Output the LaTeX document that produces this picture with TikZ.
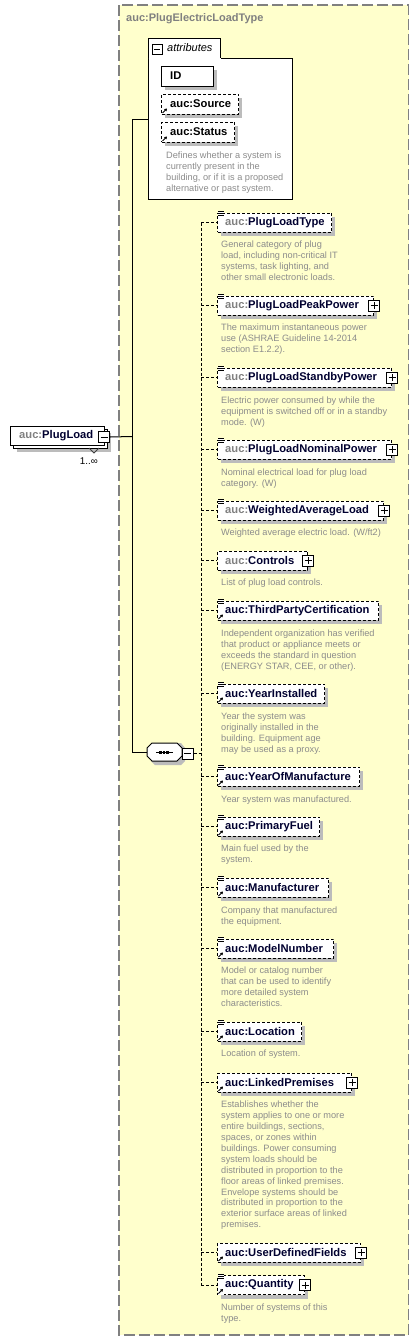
\documentclass[tikz,border=0pt]{standalone}
\usepackage{fontspec}
\setmainfont{Liberation Sans}
\usetikzlibrary{calc,arrows.meta}
\definecolor{bgyellow}{RGB}{255,255,204}
\definecolor{txtgray}{RGB}{128,128,128}
\definecolor{descgray}{RGB}{140,140,140}
\definecolor{namecol}{RGB}{0,0,48}
\definecolor{shadowgray}{RGB}{188,188,188}
\tikzset{
  elbase/.style={shape=rectangle,fill=white,line width=1pt,minimum height=19pt,inner sep=0pt,anchor=west},
  elbox/.style={elbase,draw,dash pattern=on 3pt off 2pt},
  solidbox/.style={elbase,draw},
  nm/.style={font=\fontsize{11.2}{13}\selectfont\bfseries,text=namecol,anchor=west,inner sep=0pt},
  desc/.style={font=\fontsize{9.2}{10.9}\selectfont,text=descgray,align=left,anchor=north west,inner sep=0pt},
  iconbox/.style={draw,fill=white,line width=1pt,minimum size=11pt,inner sep=0pt},
  plusbox/.style={iconbox,path picture={\draw[line width=1pt]
    ([xshift=2pt]path picture bounding box.west) -- ([xshift=-2pt]path picture bounding box.east)
    ([yshift=2pt]path picture bounding box.south) -- ([yshift=-2pt]path picture bounding box.north);}},
  minusbox/.style={iconbox,path picture={\draw[line width=1pt]
    ([xshift=2pt]path picture bounding box.west) -- ([xshift=-2pt]path picture bounding box.east);}},
  conn/.style={line width=1pt,draw=black},
  dconn/.style={line width=1pt,draw=black,dash pattern=on 3pt off 2pt},
  shadowfill/.style={fill=shadowgray,draw=none},
}
\newcommand\el[4]{%
  \fill[shadowfill] (221,#2-5.5) rectangle (#3+4,#2+13.5);
  \node[elbox,minimum width={#3-217}] (#1) at (217,#2) {};
  \node[nm] (#1n) at (225,#2) {#4};
  \draw[dconn] (#1.west -| spine) -- (#1.west);}
\newcommand\dsc[3]{\node[desc] (#1) at (221,#2) {\strut #3};}
\newcommand\listic[1]{%
  \fill[white] ($(#1.north west)+(0.5,-1.5)$) rectangle ($(#1.north west)+(7,4)$);
  \foreach \d in {-1,1,3} \draw[line width=0.9pt] ($(#1.north west)+(1,\d)$) -- ++(5.5,0);}
\newcommand\refic[1]{%
  \fill[white] ($(#1.south west)+(0.5,-7)$) rectangle ($(#1.south west)+(7,-0.5)$);
  \draw[line width=1pt,-{Triangle[length=2.5pt,width=3pt]}] ($(#1.south west)+(1.5,-1.5)$) -- ($(#1.south west)+(6,-6)$);}
\newcommand\plusic[1]{\node[plusbox] (#1p) at (#1.east) {};}
\newcommand\loc[1]{{\color{txtgray}auc:}#1}
\begin{document}
\begin{tikzpicture}[x=1pt,y=-1pt]
\useasboundingbox (0,0) rectangle (419,1341);
% type box
\draw[draw=txtgray,fill=bgyellow,line width=1.2pt,dash pattern=on 11pt off 4pt] (119,5) rectangle (408.5,1335);
\node[font=\fontsize{11}{13}\selectfont\bfseries,text=txtgray,anchor=west,inner sep=0pt] (title) at (126,19) {auc:PlugElectricLoadType};
% coordinates
\coordinate (spine) at (201,0);
\coordinate (jtop) at (132,119);
\coordinate (jpl) at (132,436.5);
\coordinate (jseq) at (132,752);
% attributes
\node[draw,fill=white,line width=1pt,minimum width=72pt,minimum height=20pt,anchor=north west,inner sep=0pt] (attrtab) at (148,38) {};
\node[draw,fill=white,line width=1pt,minimum width=144pt,minimum height=141pt,anchor=north west,inner sep=0pt] (attrbox) at (148,58) {};
\draw[white,line width=1.2pt] ($(attrtab.south west)+(0.5,0)$) -- ($(attrtab.south east)+(-0.5,0)$);
\node[minusbox,minimum size=10pt] (attrm) at (157,49) {};
\node[font=\fontsize{11}{13}\selectfont\itshape,anchor=west,inner sep=0pt] (attrl) at (167,48) {attributes};
\fill[shadowfill] (165,70) rectangle (217,90);
\node[solidbox,minimum width=52pt,minimum height=20pt] (aid) at (161,76) {};
\node[nm,text=black] (aidn) at (170,76) {ID};
\fill[shadowfill] (165,98) rectangle (242,118);
\node[elbox,minimum width=77pt,minimum height=20pt] (asrc) at (161,104) {};
\node[nm,text=black] (asrcn) at (170,104) {auc:Source};
\refic{asrc}
\fill[shadowfill] (165,126) rectangle (238,146);
\node[elbox,minimum width=73pt,minimum height=20pt] (asta) at (161,132) {};
\node[nm,text=black] (astan) at (170,132) {auc:Status};
\refic{asta}
\node[desc] (adesc) at (166,151) {\strut Defines whether a system is\\currently present in the\\building, or if it is a proposed\\alternative or past system.};
% PlugLoad element
\fill[shadowfill] (17,433) rectangle (111,452);
\node[solidbox,minimum width=94pt,minimum height=19pt,anchor=north west] (plb) at (13,429) {};
\node[draw,fill=white,line width=1pt,minimum width=94pt,minimum height=19pt,anchor=north west,inner sep=0pt] (pl) at (10,426) {};
\node[nm] (pln) at (19,435.5) {\loc{PlugLoad}};
\node[minusbox] (plm) at (104,437) {};
\draw[line width=0.9pt,black!75] (89,448) -- (94,453) -- (99,448);
\node[font=\fontsize{9.8}{11}\selectfont,anchor=east,inner sep=0pt] (plmult) at (98,461) {1..∞};
% trunk connectors
\draw[conn] (plm.east) -- (jpl);
\draw[conn] (attrbox.west |- jtop) -- (jtop) -- (jseq);
% sequence compositor
\fill[shadowfill] (151,747) -- (155,743) -- (181,743) -- (185,748) -- (185,761) -- (181,765) -- (155,765) -- (151,761) -- cycle;
\draw[line width=1pt,fill=white] (147,748) -- (152,743) -- (177,743) -- (182,748) -- (182,756) -- (177,761) -- (152,761) -- (147,756) -- cycle;
\node[minimum width=35pt,minimum height=18pt,inner sep=0pt] (seq) at (164.5,752) {};
\draw[conn] (jseq) -- (seq.west);
\draw[line width=1pt] (156,752) -- (173,752);
\foreach \q in {160.5,164,167.5} \fill (\q-1.3,750.5) rectangle (\q+1.3,753.5);
\node[minusbox] (seqm) at (187.5,753.5) {};
\coordinate (sjoin) at (201,753.5);
\draw[dconn] (seqm.east) -- (sjoin);
% spine
\draw[dconn] (201,222.5) -- (201,1285);
% elements
\el{e1}{222.5}{331}{\loc{PlugLoadType}} \listic{e1}
\dsc{d1}{240}{General category of plug\\load, including non-critical IT\\systems, task lighting, and\\other small electronic loads.}
\el{e2}{305.5}{373}{\loc{PlugLoadPeakPower}} \listic{e2} \plusic{e2}
\dsc{d2}{323}{The maximum instantaneous power\\use (ASHRAE Guideline 14-2014\\section E1.2.2).}
\el{e3}{377.5}{391}{\loc{PlugLoadStandbyPower}} \listic{e3} \plusic{e3}
\dsc{d3}{396}{Electric power consumed by while the\\equipment is switched off or in a standby\\mode. (W)}
\el{e4}{449.5}{391}{\loc{PlugLoadNominalPower}} \listic{e4} \plusic{e4}
\dsc{d4}{468}{Nominal electrical load for plug load\\category. (W)}
\el{e5}{510.5}{383}{\loc{WeightedAverageLoad}} \listic{e5} \plusic{e5}
\dsc{d5}{528}{Weighted average electric load. (W/ft2)}
\el{e6}{560.5}{307}{\loc{Controls}} \plusic{e6}
\dsc{d6}{578}{List of plug load controls.}
\el{e7}{610.5}{378}{auc:ThirdPartyCertification} \listic{e7} \refic{e7}
\dsc{d7}{629}{Independent organization has verified\\that product or appliance meets or\\exceeds the standard in question\\(ENERGY STAR, CEE, or other).}
\el{e8}{693.5}{324}{auc:YearInstalled} \listic{e8} \refic{e8}
\dsc{d8}{712}{Year the system was\\originally installed in the\\building. Equipment age\\may be used as a proxy.}
\el{e9}{776.5}{359}{auc:YearOfManufacture} \listic{e9} \refic{e9}
\dsc{d9}{795}{Year system was manufactured.}
\el{e10}{826.5}{319}{auc:PrimaryFuel} \listic{e10} \refic{e10}
\dsc{d10}{844}{Main fuel used by the\\system.}
\el{e11}{887.5}{328}{auc:Manufacturer} \listic{e11} \refic{e11}
\dsc{d11}{906}{Company that manufactured\\the equipment.}
\el{e12}{948.5}{333}{auc:ModelNumber} \listic{e12} \refic{e12}
\dsc{d12}{966}{Model or catalog number\\that can be used to identify\\more detailed system\\characteristics.}
\el{e13}{1031.5}{301}{auc:Location} \listic{e13} \refic{e13}
\dsc{d13}{1049}{Location of system.}
\el{e14}{1082.5}{351}{auc:LinkedPremises} \refic{e14} \plusic{e14}
\dsc{d14}{1100}{Establishes whether the\\system applies to one or more\\entire buildings, sections,\\spaces, or zones within\\buildings. Power consuming\\system loads should be\\distributed in proportion to the\\floor areas of linked premises.\\Envelope systems should be\\distributed in proportion to the\\exterior surface areas of linked\\premises.}
\el{e15}{1252.5}{360}{auc:UserDefinedFields} \refic{e15} \plusic{e15}
\el{e16}{1285}{304}{auc:Quantity} \listic{e16} \refic{e16} \plusic{e16}
\dsc{d16}{1303}{Number of systems of this\\type.}
\end{tikzpicture}
\end{document}
